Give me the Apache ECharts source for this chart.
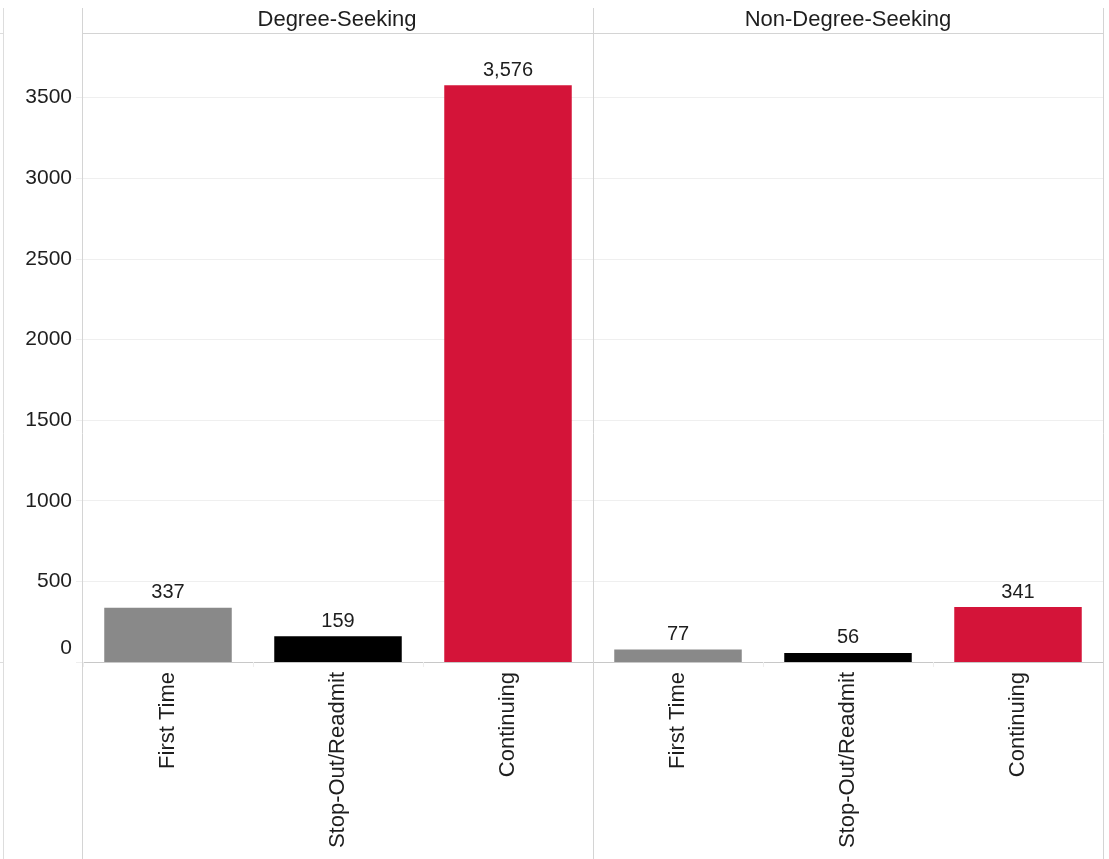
<!DOCTYPE html>
<html>
<head>
<meta charset="utf-8">
<script src="https://cdn.jsdelivr.net/npm/echarts@6/dist/echarts.min.js"></script>
<style>
html,body{margin:0;padding:0;background:#fff;}
#chart{width:1109px;height:859px;}
</style>
</head>
<body>
<div id="chart"></div>
<script>
var categories = ['First Time', 'Stop-Out/Readmit', 'Continuing'];
var panels = ['Degree-Seeking', 'Non-Degree-Seeking'];
var degreeSeeking = [337, 159, 3576];
var nonDegreeSeeking = [77, 56, 341];
var categoryColors = ['#898989', '#000000', '#d41439'];
var yTicks = [0, 500, 1000, 1500, 2000, 2500, 3000, 3500];

var FONT = 'Liberation Sans, Arial, sans-serif';
var TEXT = '#1e1e1e';
var BORDER = '#d4d4d4';

var chart = echarts.init(document.getElementById('chart'), null, {renderer: 'canvas'});

function yAxisFor(idx) {
  return {
    type: 'value', gridIndex: idx, min: 0, max: 3900, interval: 500,
    axisLine: {show: false},
    axisTick: {show: idx === 0, length: 7, lineStyle: {color: '#eeeeee'}},
    splitLine: {show: true, showMaxLine: false, lineStyle: {color: '#efefef', width: 1}},
    axisLabel: {
      show: idx === 0, showMaxLabel: false, margin: 11,
      fontFamily: FONT, fontSize: 21, color: TEXT,
      formatter: function (v) {
        if (yTicks.indexOf(v) < 0) return '';
        return v === 0 ? '{z|0}' : String(v);
      },
      rich: {z: {fontFamily: FONT, fontSize: 21, color: TEXT, padding: [0, 0, 28, 0]}}
    }
  };
}

function xAxisFor(idx) {
  return {
    type: 'category', gridIndex: idx, data: categories,
    axisLine: {show: true, lineStyle: {color: '#c8c8c8', width: 1}},
    axisTick: {show: true, length: 5, alignWithLabel: false, lineStyle: {color: '#eeeeee'}},
    axisLabel: {rotate: 90, margin: 10, fontFamily: FONT, fontSize: 22, color: TEXT, interval: 0}
  };
}

function seriesFor(idx, values) {
  return {
    type: 'bar', xAxisIndex: idx, yAxisIndex: idx,
    barWidth: '75%',
    data: values.map(function (v, i) {
      return {value: v, itemStyle: {color: categoryColors[i]}};
    }),
    label: {
      show: true, position: 'top', distance: 5,
      fontFamily: FONT, fontSize: 20, color: TEXT,
      formatter: function (p) { return p.value.toLocaleString('en-US'); }
    },
    silent: true
  };
}

function vline(x, y1, y2, color) {
  return {type: 'line', shape: {x1: x, y1: y1, x2: x, y2: y2}, style: {stroke: color, lineWidth: 1}, z: 100};
}
function hline(y, x1, x2, color) {
  return {type: 'line', shape: {x1: x1, y1: y, x2: x2, y2: y}, style: {stroke: color, lineWidth: 1}, z: 100};
}

var option = {
  backgroundColor: '#ffffff',
  animation: false,
  grid: [
    {left: 83, top: 33, width: 510, height: 629},
    {left: 593, top: 33, width: 510, height: 629}
  ],
  xAxis: [xAxisFor(0), xAxisFor(1)],
  yAxis: [yAxisFor(0), yAxisFor(1)],
  series: [seriesFor(0, degreeSeeking), seriesFor(1, nonDegreeSeeking)],
  graphic: [
    vline(3.5, 8, 859, '#dddddd'),
    hline(33.5, 0, 3, '#dddddd'),
    hline(662.5, 0, 3, '#dddddd'),
    vline(82.5, 8, 859, BORDER),
    vline(593.5, 8, 859, BORDER),
    vline(1103.5, 8, 859, BORDER),
    hline(33.5, 83, 1104, BORDER),
    {type: 'text', x: 337, y: 20, style: {text: panels[0], font: '22px ' + FONT, fill: TEXT, align: 'center', verticalAlign: 'middle'}, z: 100},
    {type: 'text', x: 848, y: 20, style: {text: panels[1], font: '22px ' + FONT, fill: TEXT, align: 'center', verticalAlign: 'middle'}, z: 100}
  ]
};
chart.setOption(option);
</script>
</body>
</html>
